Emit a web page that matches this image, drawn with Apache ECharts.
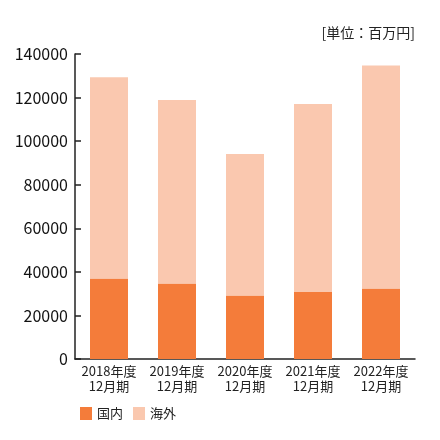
<!DOCTYPE html>
<html>
<head>
<meta charset="utf-8">
<script src="https://cdn.jsdelivr.net/npm/echarts@6/dist/echarts.min.js"></script>
<style>
    html, body { margin: 0; padding: 0; background: #fff; }
    #chart { width: 440px; height: 440px; }
</style>
</head>
<body>
<div id="chart"></div>
<script>
// 年度
let categories = ['2018年度\n12月期', '2019年度\n12月期', '2020年度\n12月期', '2021年度\n12月期', '2022年度\n12月期'];
// 国内
let domesticValues = [36900, 34600, 29100, 30700, 32400];
// 海外
let overseasValues = [92400, 84300, 65000, 86400, 102300];
// 縦軸
let yTicks = [0, 20000, 40000, 60000, 80000, 100000, 120000, 140000];

let fontFamily = '"Noto Sans CJK JP", "Noto Sans", sans-serif';

let option = {
    animation: false,
    textStyle: { fontFamily: fontFamily },
    graphic: [{
        type: 'text',
        right: 25,
        top: 26,
        style: {
            text: '[単位：百万円]',
            font: '14px ' + fontFamily,
            fill: '#222'
        }
    }],
    grid: {
        left: 75,
        right: 25,
        top: 54,
        bottom: 81
    },
    legend: {
        left: 75,
        top: 402,
        itemWidth: 12,
        itemHeight: 13,
        itemGap: 10,
        icon: 'rect',
        textStyle: { fontSize: 13, color: '#222', fontFamily: fontFamily },
        data: ['国内', '海外']
    },
    xAxis: {
        type: 'category',
        data: categories,
        axisLine: { lineStyle: { color: '#222', width: 1.5 } },
        axisTick: { inside: true, length: 6, lineStyle: { color: '#222', width: 1.5 } },
        axisLabel: {
            interval: 0,
            hideOverlap: false,
            color: '#222',
            fontSize: 13,
            lineHeight: 15,
            margin: 5,
            fontFamily: fontFamily
        }
    },
    yAxis: {
        type: 'value',
        min: yTicks[0],
        max: yTicks[yTicks.length - 1],
        interval: 20000,
        axisLine: { show: true, lineStyle: { color: '#222', width: 1.5 } },
        axisTick: { show: true, inside: true, length: 6, lineStyle: { color: '#222', width: 1.5 } },
        splitLine: { show: false },
        axisLabel: {
            color: '#111',
            fontSize: 16,
            margin: 7,
            fontFamily: fontFamily,
            formatter: function (v) { return String(v); }
        }
    },
    series: [
        {
            name: '国内',
            type: 'bar',
            stack: 'total',
            barWidth: 38,
            itemStyle: { color: '#F47C3A' },
            data: domesticValues
        },
        {
            name: '海外',
            type: 'bar',
            stack: 'total',
            barWidth: 38,
            itemStyle: { color: '#FAC8AF' },
            data: overseasValues
        }
    ]
};

let myChart = echarts.init(document.getElementById('chart'));
myChart.setOption(option);
</script>
</body>
</html>
